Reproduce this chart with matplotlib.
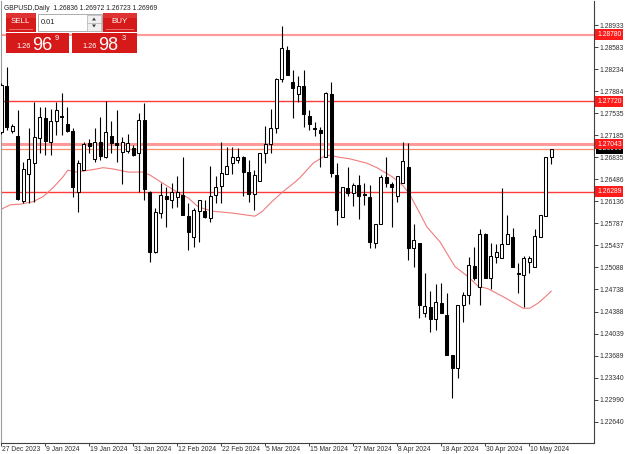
import matplotlib
matplotlib.use("Agg")
import matplotlib.pyplot as plt
import matplotlib.transforms as mtrans
from matplotlib.patches import Rectangle, Polygon
import numpy as np

plt.rcParams["font.family"] = ["Liberation Sans", "DejaVu Sans"]

# ---------------- data ----------------
dates = ["27 Dec 2023", "9 Jan 2024", "19 Jan 2024", "31 Jan 2024", "12 Feb 2024",
         "22 Feb 2024", "5 Mar 2024", "15 Mar 2024", "27 Mar 2024", "8 Apr 2024",
         "18 Apr 2024", "30 Apr 2024", "10 May 2024"]
date_bar = [0, 8, 16, 24, 32, 40, 48, 56, 64, 72, 80, 88, 96]

opens = [1.2723, 1.2796, 1.2725, 1.2717, 1.2614, 1.2657, 1.2674, 1.2714, 1.2746, 1.2708,
         1.2741, 1.2749, 1.2736, 1.2725, 1.2628, 1.2663, 1.2706, 1.2681, 1.2708, 1.2684,
         1.2717, 1.2706, 1.2692, 1.2693, 1.2698, 1.2690, 1.2743, 1.2628, 1.2533, 1.2595,
         1.2622, 1.2616, 1.2621, 1.2624, 1.2590, 1.2557, 1.2598, 1.2598, 1.2587, 1.2624,
         1.2638, 1.2657, 1.2674, 1.2679, 1.2684, 1.2660, 1.2625, 1.2646, 1.2690, 1.2704,
         1.2730, 1.2808, 1.2854, 1.2803, 1.2784, 1.2796, 1.2749, 1.2730, 1.2727, 1.2684,
         1.2784, 1.2655, 1.2589, 1.2635, 1.2627, 1.2640, 1.2625, 1.2621, 1.2548, 1.2578,
         1.2652, 1.2641, 1.2622, 1.2643, 1.2668, 1.2540, 1.2548, 1.2437, 1.2446, 1.2427,
         1.2452, 1.2433, 1.2370, 1.2349, 1.2449, 1.2465, 1.2511, 1.2478, 1.2562, 1.2492,
         1.2525, 1.2524, 1.2546, 1.2557, 1.2500, 1.2497, 1.2517, 1.2509, 1.2557, 1.2590,
         1.26836]
highs = [1.2801, 1.2827, 1.2736, 1.2759, 1.2676, 1.2730, 1.2771, 1.2763, 1.2763, 1.2760,
         1.2771, 1.2786, 1.2763, 1.2730, 1.2679, 1.2708, 1.2713, 1.2730, 1.2747, 1.2773,
         1.2741, 1.2759, 1.2716, 1.2720, 1.2703, 1.2754, 1.2770, 1.2630, 1.2603, 1.2643,
         1.2636, 1.2643, 1.2654, 1.2684, 1.2611, 1.2603, 1.2616, 1.2616, 1.2670, 1.2654,
         1.2708, 1.2700, 1.2700, 1.2698, 1.2686, 1.2679, 1.2663, 1.2690, 1.2733, 1.2760,
         1.2809, 1.2892, 1.2860, 1.2822, 1.2812, 1.2822, 1.2759, 1.2739, 1.2731, 1.2787,
         1.2803, 1.2674, 1.2636, 1.2668, 1.2643, 1.2655, 1.2643, 1.2640, 1.2578, 1.2655,
         1.2684, 1.2644, 1.2654, 1.2708, 1.2706, 1.2578, 1.2548, 1.2500, 1.2471, 1.2482,
         1.2484, 1.2468, 1.2370, 1.2449, 1.2470, 1.2525, 1.2541, 1.2570, 1.2563, 1.2548,
         1.2546, 1.2635, 1.2592, 1.2571, 1.2516, 1.2527, 1.2527, 1.2570, 1.2592, 1.2684,
         1.26972]
lows = [1.2720, 1.2727, 1.2722, 1.2616, 1.2611, 1.2611, 1.2613, 1.2690, 1.2687, 1.2687,
        1.2719, 1.2719, 1.2724, 1.2620, 1.2597, 1.2663, 1.2690, 1.2676, 1.2679, 1.2682,
        1.2690, 1.2676, 1.2641, 1.2690, 1.2686, 1.2628, 1.2616, 1.2517, 1.2532, 1.2587,
        1.2573, 1.2603, 1.2605, 1.2592, 1.2536, 1.2541, 1.2549, 1.2587, 1.2581, 1.2611,
        1.2611, 1.2657, 1.2657, 1.2674, 1.2622, 1.2613, 1.2600, 1.2646, 1.2674, 1.2690,
        1.2722, 1.2803, 1.2814, 1.2746, 1.2771, 1.2731, 1.2727, 1.2717, 1.2668, 1.2684,
        1.2652, 1.2576, 1.2589, 1.2622, 1.2606, 1.2586, 1.2608, 1.2540, 1.2540, 1.2578,
        1.2636, 1.2573, 1.2613, 1.2643, 1.2521, 1.2510, 1.2429, 1.2430, 1.2406, 1.2410,
        1.2437, 1.2370, 1.2302, 1.2333, 1.2422, 1.2451, 1.2489, 1.2449, 1.2492, 1.2475,
        1.2516, 1.2524, 1.2546, 1.2510, 1.2468, 1.2446, 1.2500, 1.2509, 1.2557, 1.2590,
        1.26723]
closes = [1.2798, 1.2731, 1.2733, 1.2617, 1.2665, 1.2681, 1.2716, 1.2747, 1.2709, 1.2741,
          1.2759, 1.2747, 1.2725, 1.2636, 1.2674, 1.2704, 1.2701, 1.2708, 1.2686, 1.2724,
          1.2706, 1.2703, 1.2708, 1.2706, 1.2687, 1.2743, 1.2633, 1.2533, 1.2597, 1.2624,
          1.2617, 1.2628, 1.2628, 1.2592, 1.2565, 1.2600, 1.2616, 1.2589, 1.2622, 1.2636,
          1.2659, 1.2670, 1.2684, 1.2684, 1.2660, 1.2625, 1.2655, 1.2690, 1.2704, 1.2730,
          1.2808, 1.2857, 1.2814, 1.2793, 1.2796, 1.2752, 1.2736, 1.2728, 1.2722, 1.2785,
          1.2659, 1.2600, 1.2636, 1.2627, 1.2640, 1.2622, 1.2624, 1.2549, 1.2578, 1.2652,
          1.2643, 1.2636, 1.2654, 1.2678, 1.2540, 1.2552, 1.2449, 1.2448, 1.2427, 1.2454,
          1.2437, 1.2370, 1.2349, 1.2449, 1.2465, 1.2513, 1.2492, 1.2562, 1.2492, 1.2527,
          1.2533, 1.2546, 1.2562, 1.2510, 1.2498, 1.2524, 1.2524, 1.2559, 1.2592, 1.2684,
          1.26969]

# moving average (bar position, price)
ma_x = [0, 1.6, 3.4, 5.8, 7.6, 9.4, 11.2, 12.1, 13.8, 17.4, 18.5, 20.3, 23.1, 25.8, 27.1,
        29.8, 32.2, 34.0, 35.8, 38.3, 42.0, 46.1, 47.4, 49.2, 51.1, 53.4, 54.3, 56.7, 58.5,
        59.8, 61.1, 63.4, 66.5, 68.3, 71.2, 73.1, 74.3, 75.6, 77.4, 79.8, 82.5, 84.9, 86.7,
        88.5, 91.1, 92.9, 94.9, 96.1, 97.6, 98.9, 100]
ma_val = [1.2601, 1.2608, 1.2609, 1.2613, 1.2621, 1.2635, 1.2652, 1.2663, 1.2660, 1.2665,
          1.2667, 1.2665, 1.2660, 1.2660, 1.2655, 1.2640, 1.2627, 1.2619, 1.2605, 1.2598,
          1.2595, 1.2590, 1.2597, 1.2613, 1.2628, 1.2644, 1.2651, 1.2674, 1.2684, 1.2687,
          1.2684, 1.2681, 1.2674, 1.2667, 1.2652, 1.2638, 1.2624, 1.2603, 1.2573, 1.2549,
          1.2510, 1.2494, 1.2479, 1.2475, 1.2463, 1.2454, 1.2444, 1.2444, 1.2452, 1.2462,
          1.2471]

level_prices = [1.28780, 1.27720, 1.27043, 1.26289]
level_colors = ["#ff9a9a", "#ff3b3b", "#ff9a9a", "#ff3b3b"]
level_widths = [1.6, 1.0, 2.2, 1.0]
bid_price = 1.26969

yticks = [1.28933, 1.28583, 1.28234, 1.27884, 1.27535, 1.27185, 1.26835, 1.26486,
          1.26136, 1.25787, 1.25437, 1.25088, 1.24738, 1.24388, 1.24039, 1.23689,
          1.23340, 1.22990, 1.22640]

# ---------------- figure ----------------
W, H = 625, 454
fig = plt.figure(figsize=(W / 100, H / 100), dpi=100)
fig.patch.set_facecolor("white")
ax = fig.add_axes([1 / W, 11 / H, 593 / W, 442 / H])
ax.set_facecolor("white")

n = len(opens)
xs = np.arange(n)
o = np.array(opens); h = np.array(highs); l = np.array(lows); c = np.array(closes)
up = c >= o

# horizontal levels (behind candles)
for p, col, lw in zip(level_prices, level_colors, level_widths):
    ax.axhline(p, color=col, lw=lw, zorder=1)
ax.axhline(bid_price, color="#ff8c66", lw=0.9, zorder=1)

# moving average
ax.plot(ma_x, ma_val, color="#f07c7c", lw=0.8, zorder=2)

# wicks
ax.vlines(xs, l, h, color="black", lw=0.8, zorder=3)
# bodies
bw = 0.6
body_bottom = np.minimum(o, c)
body_h = np.maximum(np.abs(c - o), 0.00006)
ax.bar(xs[up], body_h[up], bottom=body_bottom[up], width=bw,
       facecolor="white", edgecolor="black", linewidth=0.75, zorder=4)
ax.bar(xs[~up], body_h[~up], bottom=body_bottom[~up], width=bw,
       facecolor="black", edgecolor="black", linewidth=0.75, zorder=4)

ax.set_xlim(-0.04, 107.78)
ax.set_ylim(1.22302, 1.29314)

# axes styling
ax.spines["top"].set_visible(False)
ax.spines["left"].set_color("#9a9a9a")
ax.spines["left"].set_linewidth(0.8)
for s in ["right", "bottom"]:
    ax.spines[s].set_color("#404040")
    ax.spines[s].set_linewidth(0.8)

FS = 4.9
ax.yaxis.tick_right()
ax.set_yticks(yticks)
ax.set_yticklabels([f"{v:.5f}" for v in yticks])
ax.tick_params(axis="y", direction="out", length=3, width=0.7, pad=1,
               labelsize=FS, colors="#404040", labelcolor="#303030")

ax.set_xticks(date_bar)
ax.set_xticklabels(dates, ha="left")
ax.tick_params(axis="x", direction="out", length=2.5, width=0.7, pad=0.2,
               labelsize=FS, colors="#404040", labelcolor="#303030")
offset = mtrans.ScaledTranslation(1.2 / 100, 0.6 / 100, fig.dpi_scale_trans)
for lab in ax.get_xticklabels():
    lab.set_transform(lab.get_transform() + offset)

# right-side price labels
trans = mtrans.blended_transform_factory(ax.transAxes, ax.transData)
ax.text(1.005, bid_price, f"{bid_price:.5f}", transform=trans, fontsize=FS,
        color="white", va="center", ha="left", zorder=10, clip_on=False,
        bbox=dict(boxstyle="square,pad=0.2", fc="black", ec="none"))
for p in level_prices:
    ax.text(1.005, p, f"{p:.5f}", transform=trans, fontsize=FS,
            color="white", va="center", ha="left", zorder=11, clip_on=False,
            bbox=dict(boxstyle="square,pad=0.25", fc="#ff1a1a", ec="none"))

# ---------------- overlay: header + one-click trading panel ----------------
ov = fig.add_axes([0, 0, 1, 1], zorder=20)
ov.set_xlim(0, W)
ov.set_ylim(H, 0)
ov.axis("off")
ov.patch.set_alpha(0)

ov.text(4, 8, "GBPUSD,Daily  1.26836 1.26972 1.26723 1.26969", fontsize=4.9,
        color="#202020", va="center", ha="left")

red = "#d61a1a"
red_hi = "#e84a4a"
# SELL button
ov.add_patch(Rectangle((5.5, 13), 30, 19, fc=red, ec="none"))
ov.add_patch(Rectangle((5.5, 13), 30, 5, fc=red_hi, ec="none", alpha=0.5))
ov.text(20.5, 21.5, "SELL", fontsize=5.8, color="white", ha="center", va="center")
ov.plot([9, 32], [28.5, 28.5], color="#f08080", lw=0.6)
# volume box
ov.add_patch(Rectangle((38, 14), 64, 17, fc="white", ec="#a0a0a0", lw=0.6))
ov.text(41, 22.5, "0.01", fontsize=5.3, color="#202020", ha="left", va="center")
ov.add_patch(Rectangle((87, 14.5), 14, 16, fc="#f0f0f0", ec="#b0b0b0", lw=0.5))
ov.plot([87, 101], [22.5, 22.5], color="#b0b0b0", lw=0.5)
ov.add_patch(Polygon([[92, 20.5], [96, 20.5], [94, 17.5]], closed=True, fc="#404040", ec="none"))
ov.add_patch(Polygon([[92, 24.5], [96, 24.5], [94, 27.5]], closed=True, fc="#404040", ec="none"))
# BUY button
ov.add_patch(Rectangle((103, 13), 33.5, 19, fc=red, ec="none"))
ov.add_patch(Rectangle((103, 13), 33.5, 5, fc=red_hi, ec="none", alpha=0.5))
ov.text(120, 21.5, "BUY", fontsize=5.8, color="white", ha="center", va="center")
ov.plot([106, 133], [28.5, 28.5], color="#f08080", lw=0.6)
# price boxes
ov.add_patch(Rectangle((5.5, 32.5), 63.5, 20.5, fc=red, ec="none"))
ov.add_patch(Rectangle((71.5, 32.5), 65, 20.5, fc=red, ec="none"))
ov.text(16.5, 48, "1.26", fontsize=5.3, color="white", ha="left", va="baseline")
ov.text(32.5, 49.5, "96", fontsize=13, color="white", ha="left", va="baseline")
ov.text(55, 40, "9", fontsize=5.3, color="white", ha="left", va="baseline")
ov.text(82.5, 48, "1.26", fontsize=5.3, color="white", ha="left", va="baseline")
ov.text(98.5, 49.5, "98", fontsize=13, color="white", ha="left", va="baseline")
ov.text(121.5, 40, "3", fontsize=5.3, color="white", ha="left", va="baseline")

fig.savefig("out.png", dpi=100, facecolor="white")
